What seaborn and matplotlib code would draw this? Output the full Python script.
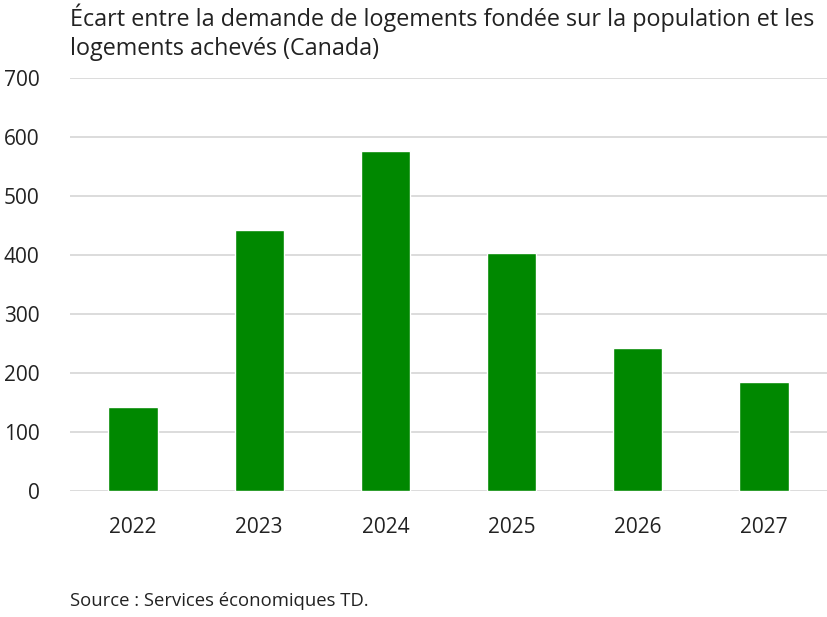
import pandas as pd
import matplotlib.pyplot as plt
import seaborn as sns

# ─── Data ─────────────────────────────────────────────────────────────────────
years = ["2022", "2023", "2024", "2025", "2026", "2027"]
gap = [142, 443, 576, 404, 242, 184]

df = pd.DataFrame({"year": years, "gap": gap})

# ─── Style ────────────────────────────────────────────────────────────────────
sns.set_theme(style="white")
plt.rcParams["font.family"] = ["Open Sans", "DejaVu Sans"]

fig = plt.figure(figsize=(8.27, 6.17), dpi=100)
ax = fig.add_axes([70 / 827, 1 - 491 / 617, 757 / 827, 413 / 617])

sns.barplot(data=df, x="year", y="gap", color="#008800", saturation=1,
            width=0.39, ax=ax, zorder=3)

ax.set_ylim(0, 700)
ax.set_xlim(-0.5, 5.5)
ax.set_yticks(range(0, 701, 100))
ax.yaxis.grid(True, color="#d9d9d9", linewidth=1.3, zorder=0)
ax.xaxis.grid(False)
for s in ax.spines.values():
    s.set_visible(False)
ax.tick_params(axis="y", length=0, pad=22, labelsize=15, labelcolor="#222222")
ax.tick_params(axis="x", length=0, pad=19, labelsize=15, labelcolor="#222222")
ax.set_xlabel("")
ax.set_ylabel("")

fig.text(70 / 827, 1 - 3 / 617,
         "Écart entre la demande de logements fondée sur la population et les\n"
         "logements achevés (Canada)",
         ha="left", va="top", fontsize=16.8, color="#222222", linespacing=1.28)
fig.text(70 / 827, 1 - 601 / 617, "Source : Services économiques TD.",
         ha="left", va="center", fontsize=13.3, color="#222222")

plt.savefig("out.png", dpi=100)
